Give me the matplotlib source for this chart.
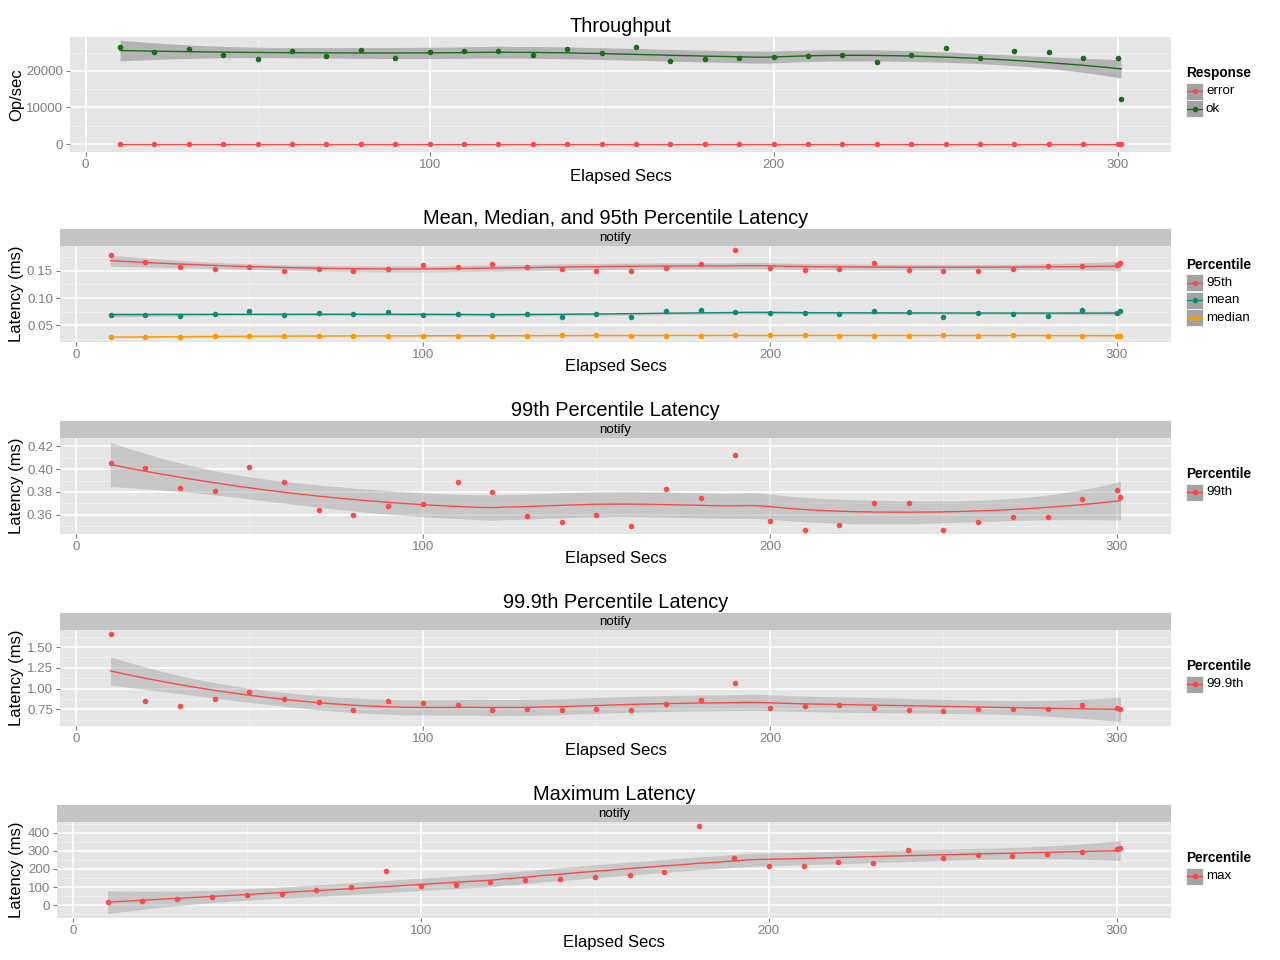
import numpy as np
import matplotlib
matplotlib.use('Agg')
import matplotlib.pyplot as plt
from matplotlib.patches import Rectangle
from matplotlib.lines import Line2D

plt.rcParams['font.family'] = ['Liberation Sans', 'DejaVu Sans']

# ---------------- data ----------------
secs = [10, 20, 30, 40, 50, 60, 70, 80, 90, 100, 110, 120, 130, 140, 150, 160,
        170, 180, 190, 200, 210, 220, 230, 240, 250, 260, 270, 280, 290, 300, 301]

tput_ok = [26570, 25280, 25930, 24350, 23330, 25460, 24070, 25650, 23430, 25280,
           25460, 25370, 24260, 26110, 24910, 26570, 22690, 23150, 23430, 23800,
           24070, 24440, 22590, 24260, 26300, 23610, 25560, 25190, 23520, 23520, 12220]
tput_error = [0] * 31

lat_95th = [0.1796, 0.1654, 0.1568, 0.1525, 0.1568, 0.1506, 0.1531, 0.1500, 0.1543, 0.1611,
            0.1568, 0.1617, 0.1580, 0.1525, 0.1494, 0.1494, 0.1549, 0.1617, 0.1877, 0.1556,
            0.1519, 0.1531, 0.1636, 0.1512, 0.1494, 0.1494, 0.1531, 0.1586, 0.1586, 0.1599, 0.1642]
lat_mean = [0.0685, 0.0685, 0.0673, 0.0710, 0.0765, 0.0685, 0.0716, 0.0698, 0.0741, 0.0685,
            0.0698, 0.0691, 0.0710, 0.0654, 0.0704, 0.0660, 0.0759, 0.0784, 0.0735, 0.0728,
            0.0728, 0.0704, 0.0765, 0.0741, 0.0660, 0.0716, 0.0698, 0.0673, 0.0772, 0.0716, 0.0753]
lat_median = [0.0278, 0.0278, 0.0290, 0.0302, 0.0302, 0.0302, 0.0302, 0.0309, 0.0302, 0.0296,
              0.0309, 0.0302, 0.0302, 0.0321, 0.0321, 0.0309, 0.0302, 0.0302, 0.0321, 0.0321,
              0.0321, 0.0302, 0.0302, 0.0309, 0.0321, 0.0309, 0.0321, 0.0309, 0.0302, 0.0309, 0.0309]
lat_99th = [0.4056, 0.4009, 0.3838, 0.3809, 0.4021, 0.3888, 0.3641, 0.3600, 0.3679, 0.3691,
            0.3888, 0.3800, 0.3588, 0.3541, 0.3600, 0.3500, 0.3829, 0.3750, 0.4120, 0.3550,
            0.3471, 0.3509, 0.3700, 0.3700, 0.3471, 0.3541, 0.3579, 0.3579, 0.3738, 0.3818, 0.3759]
lat_999th = [1.654, 0.847, 0.795, 0.872, 0.957, 0.876, 0.843, 0.738, 0.855, 0.831,
             0.807, 0.742, 0.750, 0.746, 0.758, 0.746, 0.811, 0.868, 1.069, 0.770,
             0.786, 0.807, 0.762, 0.742, 0.726, 0.750, 0.750, 0.754, 0.807, 0.770, 0.750]
lat_max = [18.6, 22.3, 33.5, 44.7, 54.0, 61.4, 83.7, 98.6, 189.8, 107.9,
           111.6, 130.2, 137.7, 145.1, 154.4, 163.7, 184.0, 435.0, 258.6, 215.8,
           214.0, 236.0, 232.6, 307.0, 260.5, 275.0, 273.5, 281.0, 296.0, 309.0, 318.0]

RED = '#FA4B4B'
GREEN = '#1A6B1A'
TEAL = '#138A76'
ORANGE = '#FF9A00'

W, H = 1280, 960


def loess_fit(x, y, grid, span=0.75):
    # local quadratic fit with tricube weights, same idea as R's loess
    x = np.asarray(x, float)
    y = np.asarray(y, float)
    n = len(x)
    q = int(np.floor(n * span))

    def row(x0):
        d = np.abs(x - x0)
        h = np.sort(d)[q - 1]
        w = np.clip(1 - (d / h) ** 3, 0, None) ** 3
        X = np.column_stack([np.ones(n), x - x0, (x - x0) ** 2])
        XtW = X.T * w
        return np.linalg.solve(XtW @ X, XtW)[0]

    L = np.array([row(v) for v in x])
    R = np.eye(n) - L
    RtR = R.T @ R
    d1 = np.trace(RtR)
    d2 = np.trace(RtR @ RtR)
    sigma = np.sqrt(np.sum((R @ y) ** 2) / d1)
    df = d1 ** 2 / d2
    z = 1.959964
    t = z + (z ** 3 + z) / (4 * df) + (5 * z ** 5 + 16 * z ** 3 + 3 * z) / (96 * df ** 2)
    Lg = np.array([row(v) for v in grid])
    fit = Lg @ y
    se = sigma * np.sqrt(np.sum(Lg ** 2, axis=1))
    return fit, fit - t * se, fit + t * se


def add_panel(fig, left, top, bottom, right=1171):
    ax = fig.add_axes([left / W, 1 - bottom / H, (right - left) / W, (bottom - top) / H])
    ax.set_facecolor('#E5E5E5')
    for s in ax.spines.values():
        s.set_visible(False)
    ax.set_axisbelow(True)
    ax.grid(which='major', color='white', lw=1.1)
    ax.grid(which='minor', color='#F2F2F2', lw=0.5)
    ax.tick_params(which='major', color='#7F7F7F', labelcolor='#7F7F7F', labelsize=9.6,
                   length=3, width=0.8, pad=2)
    ax.tick_params(which='minor', length=0)
    ax.set_xticks([0, 100, 200, 300])
    ax.set_xticks([50, 150, 250], minor=True)
    return ax


def draw_series(ax, y, color, band_alpha=0.4):
    grid = np.linspace(min(secs), max(secs), 80)
    fit, lo, hi = loess_fit(secs, y, grid)
    ax.fill_between(grid, lo, hi, color='#999999', alpha=band_alpha, lw=0, zorder=2)
    ax.plot(grid, fit, color=color, lw=1.0, zorder=3)
    ax.plot(secs, y, 'o', color=color, ms=4, mec='none', zorder=4)


def finish_axes(ax, yticks, ylabels, yminor, left, top, bottom, title, ylabel, legend_title,
                entries, strip=False, right=1171, legend_shift=-2):
    span = max(secs) - min(secs)
    ax.set_xlim(min(secs) - 0.05 * span, max(secs) + 0.05 * span)
    ax.set_yticks(yticks)
    ax.set_yticklabels(ylabels)
    ax.set_yticks(yminor, minor=True)
    cx = (left + right) / 2 / W
    ph = bottom - top
    if strip:
        sh = 17
        ax.add_patch(Rectangle((0, 1), 1, sh / ph, transform=ax.transAxes, clip_on=False,
                               facecolor='#C4C4C4', edgecolor='none'))
        ax.text(0.5, 1 + sh / 2 / ph, 'notify', transform=ax.transAxes, ha='center',
                va='center', fontsize=9.6, color='black')
        title_y = top - sh - 10
    else:
        title_y = top - 10
    fig.text(cx, 1 - title_y / H, title, ha='center', va='center', fontsize=14.4)
    fig.text(cx, 1 - (bottom + 24) / H, 'Elapsed Secs', ha='center', va='center', fontsize=12)
    fig.text(17 / W, 1 - (top + bottom) / 2 / H, ylabel, rotation=90, ha='center',
             va='center', fontsize=12)

    # legend, drawn by hand in pixel positions
    n = len(entries)
    block_top = (top + bottom) / 2 - (18 + 17.5 * n) / 2 + legend_shift
    fig.text(1186 / W, 1 - (block_top + 8) / H, legend_title, ha='left', va='center',
             fontsize=9.8, fontweight='bold')
    for i, (lab, col) in enumerate(entries):
        yc = block_top + 26 + 17.5 * i
        fig.add_artist(Rectangle((1186 / W, 1 - (yc + 8.5) / H), 17 / W, 17 / H,
                                 transform=fig.transFigure, facecolor='#A3A3A3',
                                 edgecolor='white', lw=0.5))
        fig.add_artist(Line2D([1187 / W, 1202 / W], [1 - yc / H, 1 - yc / H],
                              transform=fig.transFigure, color=col, lw=1.0))
        fig.add_artist(Line2D([1194.5 / W], [1 - yc / H], transform=fig.transFigure,
                              marker='o', color=col, ms=4, mec='none'))
        fig.text(1206 / W, 1 - yc / H, lab, ha='left', va='center', fontsize=9.6)


fig = plt.figure(figsize=(12.8, 9.6), dpi=100)

# Throughput
ax = add_panel(fig, 70, 37, 152)
draw_series(ax, tput_error, RED)
draw_series(ax, tput_ok, GREEN, band_alpha=0.65)
ax.set_ylim(-2190, 29300)
finish_axes(ax, [0, 10000, 20000], ['0', '10000', '20000'], [5000, 15000, 25000],
            70, 37, 152, 'Throughput', 'Op/sec', 'Response',
            [('error', RED), ('ok', GREEN)], legend_shift=-3)

# Mean / median / 95th
ax = add_panel(fig, 60, 246, 342)
draw_series(ax, lat_95th, RED)
draw_series(ax, lat_mean, TEAL)
draw_series(ax, lat_median, ORANGE)
finish_axes(ax, [0.05, 0.10, 0.15], ['0.05', '0.10', '0.15'], [0.025, 0.075, 0.125, 0.175],
            60, 246, 342, 'Mean, Median, and 95th Percentile Latency', 'Latency (ms)',
            'Percentile', [('95th', RED), ('mean', TEAL), ('median', ORANGE)], strip=True)

# 99th
ax = add_panel(fig, 60, 438, 534)
draw_series(ax, lat_99th, RED)
finish_axes(ax, [0.36, 0.38, 0.40, 0.42], ['0.36', '0.38', '0.40', '0.42'],
            [0.35, 0.37, 0.39, 0.41], 60, 438, 534, '99th Percentile Latency',
            'Latency (ms)', 'Percentile', [('99th', RED)], strip=True)

# 99.9th
ax = add_panel(fig, 60, 630, 726)
draw_series(ax, lat_999th, RED)
finish_axes(ax, [0.75, 1.00, 1.25, 1.50], ['0.75', '1.00', '1.25', '1.50'],
            [0.625, 0.875, 1.125, 1.375, 1.625], 60, 630, 726, '99.9th Percentile Latency',
            'Latency (ms)', 'Percentile', [('99.9th', RED)], strip=True)

# max
ax = add_panel(fig, 57, 822, 918)
draw_series(ax, lat_max, RED)
finish_axes(ax, [0, 100, 200, 300, 400], ['0', '100', '200', '300', '400'],
            [-50, 50, 150, 250, 350, 450], 57, 822, 918, 'Maximum Latency',
            'Latency (ms)', 'Percentile', [('max', RED)], strip=True)

fig.savefig('out.png', dpi=100)
